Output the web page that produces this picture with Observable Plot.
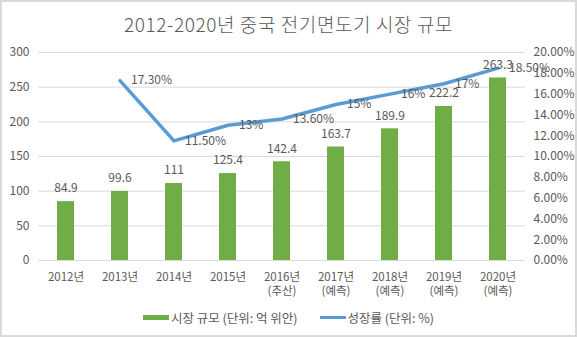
<!DOCTYPE html>
<html>
<head>
<meta charset="utf-8">
<script src="https://cdn.jsdelivr.net/npm/d3@7"></script>
<script src="https://cdn.jsdelivr.net/npm/@observablehq/plot@0.6"></script>
<style>
  html, body { margin: 0; padding: 0; background: #fff; }
  #chart { position: relative; width: 577px; height: 337px; background: #fff; overflow: hidden;
           font-family: "Noto Sans CJK KR", "Noto Sans", sans-serif; color: #595959; }
  #title { position: absolute; left: 0; top: 0; width: 577px; height: 48px; line-height: 48px;
           text-align: center; font-size: 19px; font-weight: 300; letter-spacing: 0.6px; color: #595959; }
  #plot { position: absolute; left: 0; top: 36px; }
  #legend { position: absolute; left: 0; top: 304px; width: 577px; height: 26px;
            display: flex; justify-content: center; align-items: center; gap: 22px;
            font-size: 12.5px; color: #595959; }
  .item { display: flex; align-items: center; gap: 2px; }
  .sw { display: inline-block; width: 26px; }
  #frame { position: absolute; left: 0; top: 0; width: 577px; height: 337px; box-sizing: border-box;
           border: 2px solid #d9d9d9; pointer-events: none; }
</style>
</head>
<body>
<div id="chart">
  <div id="title">2012-2020년 중국 전기면도기 시장 규모</div>
  <div id="plot"></div>
  <div id="legend"></div>
  <div id="frame"></div>
</div>
<script>
const categories = ["2012년","2013년","2014년","2015년","2016년\n(추산)","2017년\n(예측)","2018년\n(예측)","2019년\n(예측)","2020년\n(예측)"];
const marketSize = [84.9, 99.6, 111, 125.4, 142.4, 163.7, 189.9, 222.2, 263.3];
const growthRate = [null, 17.3, 11.5, 13, 13.6, 15, 16, 17, 18.5];
const rateLabels = ["", "17.30%", "11.50%", "13%", "13.60%", "15%", "16%", "17%", "18.50%"];
const leftTicks = [0, 50, 100, 150, 200, 250, 300];
const rightTicks = [0, 2, 4, 6, 8, 10, 12, 14, 16, 18, 20];
const seriesNames = ["시장 규모 (단위: 억 위안)", "성장률 (단위: %)"];
const colors = ["#70ad47", "#5b9bd5"];

const rateMax = 20, sizeMax = 300;
const k = sizeMax / rateMax; // secondary axis mapping onto the shared y scale

const rows = categories.map((c, i) => ({cat: c, size: marketSize[i], rate: growthRate[i], rlabel: rateLabels[i]}));
const rateRows = rows.filter(d => d.rate != null);

const txt = "#595959";
const fontFamily = '"Noto Sans CJK KR", "Noto Sans", sans-serif';

const plot = Plot.plot({
  width: 577,
  height: 268,
  marginTop: 16,
  marginBottom: 44,
  marginLeft: 38,
  marginRight: 52,
  style: {background: "transparent", fontFamily, fontSize: "11.5px", color: txt},
  x: {type: "band", domain: categories, paddingInner: 0.69, paddingOuter: 0.345, align: 0.5},
  y: {domain: [0, sizeMax]},
  marks: [
    Plot.gridY(leftTicks, {stroke: "#d9d9d9", strokeOpacity: 1, strokeWidth: 1}),
    Plot.ruleY([0], {stroke: "#d9d9d9", strokeWidth: 1}),
    Plot.barY(rows, {x: "cat", y: "size", fill: colors[0]}),
    Plot.line(rateRows, {x: "cat", y: d => d.rate * k, stroke: colors[1], strokeWidth: 3.5, strokeLinejoin: "round", strokeLinecap: "round"}),
    Plot.text(rows, {x: "cat", y: "size", text: d => String(d.size), dy: -13, fill: txt, fontSize: 12}),
    Plot.text(rateRows, {x: "cat", y: d => d.rate * k, text: "rlabel", textAnchor: "start", dx: 11, fill: txt, fontSize: 12}),
    Plot.axisY(leftTicks, {anchor: "left", tickSize: 0, tickPadding: 9, label: null, fill: txt, fontSize: 12}),
    Plot.axisY(rightTicks.map(t => t * k), {anchor: "right", tickSize: 0, tickPadding: 8, label: null, fill: txt, fontSize: 12,
      tickFormat: d => (d / k).toFixed(2) + "%"}),
    Plot.axisX({anchor: "bottom", tickSize: 0, tickPadding: 10, label: null, fill: txt, fontSize: 11.5, lineHeight: 1.25})
  ]
});
document.getElementById("plot").appendChild(plot);

const legend = document.getElementById("legend");
seriesNames.forEach((name, i) => {
  const item = document.createElement("div");
  item.className = "item";
  const sw = document.createElement("span");
  sw.className = "sw";
  sw.style.background = colors[i];
  sw.style.height = i === 0 ? "5px" : "3px";
  const t = document.createElement("span");
  t.textContent = name;
  item.appendChild(sw);
  item.appendChild(t);
  legend.appendChild(item);
});
</script>
</body>
</html>
